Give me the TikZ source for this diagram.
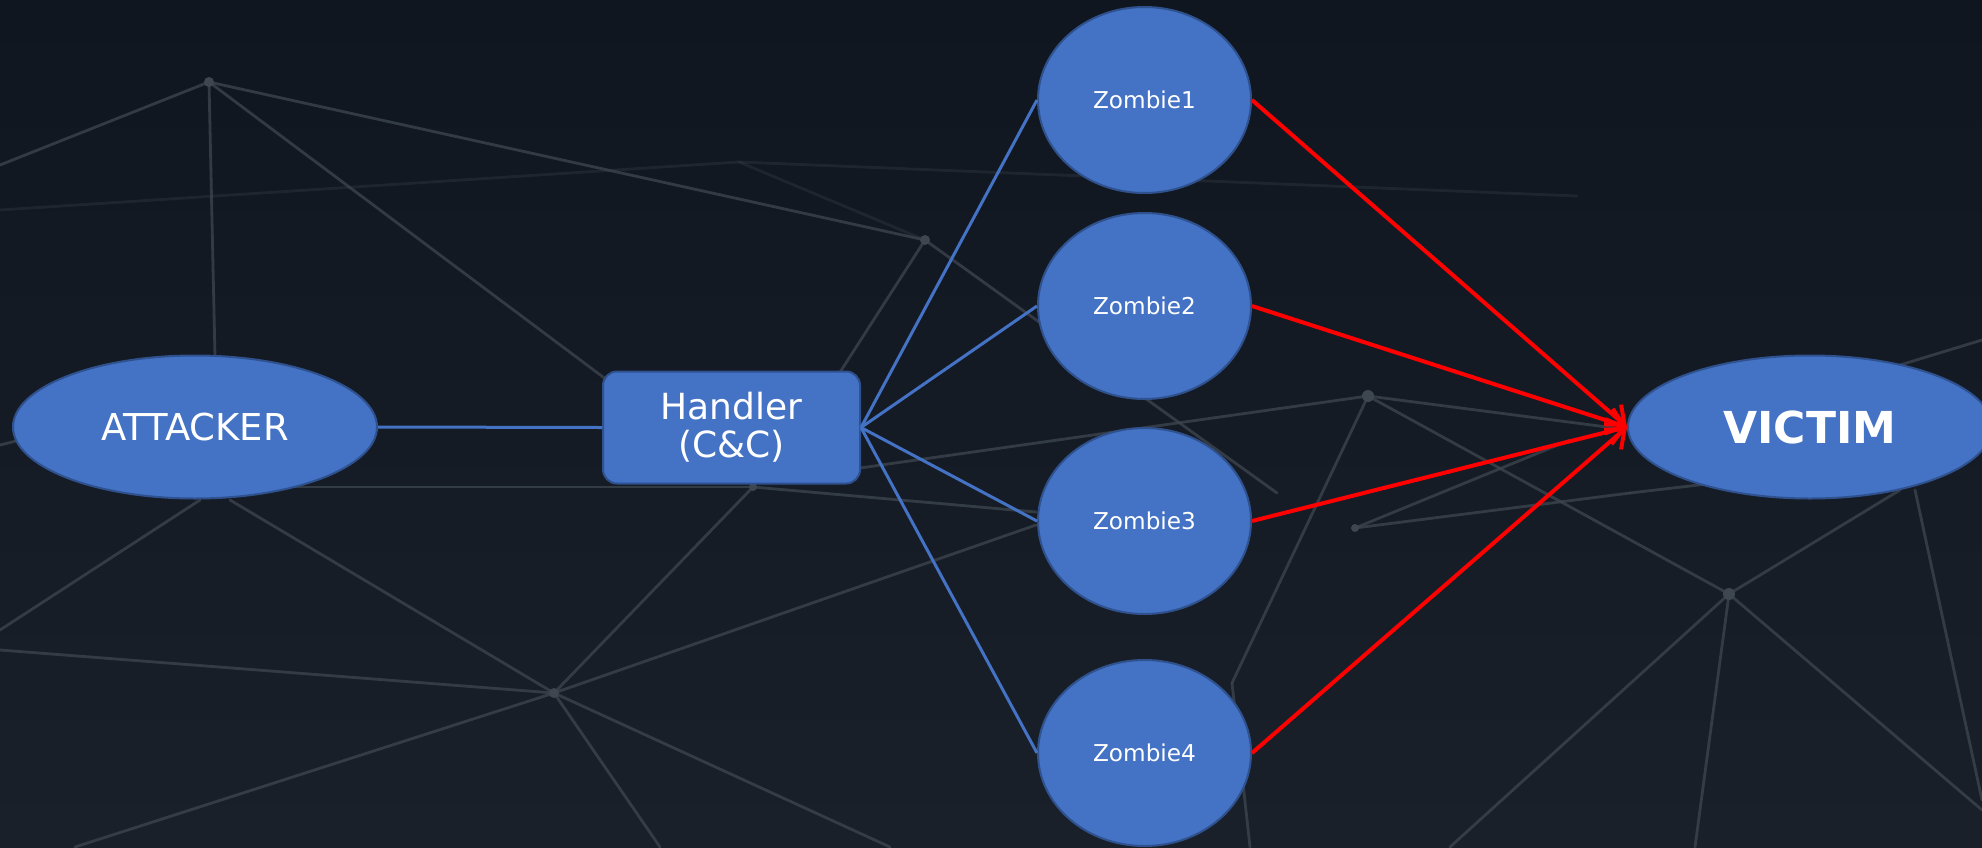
\documentclass[tikz,border=0pt]{standalone}
\usepackage{fontspec}
\setmainfont{DejaVu Sans}
\usetikzlibrary{shapes.geometric,arrows.meta}
\definecolor{bgtop}{RGB}{16,22,32}
\definecolor{bgbot}{RGB}{26,32,42}
\definecolor{netline}{RGB}{62,70,80}
\definecolor{nodefill}{RGB}{68,114,196}
\definecolor{nodeedge}{RGB}{47,82,143}
\definecolor{redline}{RGB}{255,0,0}
\tikzset{
  oval/.style={ellipse, draw=nodeedge, line width=1pt, fill=nodefill, text=white, inner sep=0pt},
  bigoval/.style={oval, minimum width=182pt, minimum height=71.5pt},
  zombie/.style={oval, minimum width=106.5pt, minimum height=93pt, font=\fontsize{11.6}{14}\selectfont},
  handlerbox/.style={rectangle, rounded corners=7pt, draw=nodeedge, line width=1pt, fill=nodefill, text=white,
    minimum width=128.5pt, minimum height=56pt, align=center, font=\fontsize{18}{19}\selectfont, inner sep=0pt},
  ctrl/.style={draw=nodefill, line width=1.5pt},
  attack/.style={draw=redline, line width=2pt, -{Straight Barb[length=8pt,width=13pt,line width=2pt]}},
  net/.style={draw=netline, line width=1.4pt, line cap=round}
}
\begin{document}
\begin{tikzpicture}[x=0.5pt,y=-0.5pt]
\useasboundingbox (0,0) rectangle (1982,847);
\shade[top color=bgtop, bottom color=bgbot] (0,0) rectangle (1982,847);
% background network
\begin{scope}[net, opacity=0.75]
\draw (0,165) -- (209,82);
\draw (209,82) -- (215,357);
\draw (209,82) -- (607,380);
\draw (209,82) -- (925,240);
\draw (925,240) -- (835,380);
\draw (925,240) -- (1277,493);
\draw (200,500) -- (0,630);
\draw (230,500) -- (554,693);
\draw (0,650) -- (554,693);
\draw (554,693) -- (753,487);
\draw (554,693) -- (1036,525);
\draw (554,693) -- (75,847);
\draw (554,693) -- (660,847);
\draw (554,693) -- (890,847);
\draw (290,487) -- (753,487);
\draw (753,487) -- (1036,512);
\draw (860,468) -- (1368,396);
\draw (1368,396) -- (1630,430);
\draw (1368,396) -- (1232,683);
\draw (1368,396) -- (1729,594);
\draw (1355,528) -- (1630,493);
\draw (1355,528) -- (1570,440);
\draw (1630,493) -- (1810,472);
\draw (1729,594) -- (1900,490);
\draw (1729,594) -- (1695,847);
\draw (1729,594) -- (1450,847);
\draw (1729,594) -- (1982,810);
\draw (1915,490) -- (1982,800);
\draw (1900,365) -- (1982,340);
\draw (1232,683) -- (1250,847);
\draw (0,445) -- (20,440);
\end{scope}
\begin{scope}[net, opacity=0.3]
\draw (0,210) -- (739,162) -- (1577,196);
\draw (739,162) -- (925,240);
\end{scope}
\fill[netline] (209,82) circle (5) (925,240) circle (5) (1368,396) circle (6) (554,693) circle (5) (1729,594) circle (6) (1355,528) circle (4) (753,487) circle (4);
% nodes
\node[bigoval, font=\fontsize{18.5}{20}\selectfont] (attacker) at (195,427) {ATTACKER};
\node[handlerbox] (handler) at (731.5,427.5) {Handler\\(C\&C)};
\node[zombie] (z1) at (1144.5,100) {Zombie1};
\node[zombie] (z2) at (1144.5,306) {Zombie2};
\node[zombie] (z3) at (1144.5,521) {Zombie3};
\node[zombie] (z4) at (1144.5,753) {Zombie4};
\node[bigoval, font=\bfseries\fontsize{22}{24}\selectfont] (victim) at (1810,427) {VICTIM};
% connectors
\draw[ctrl] (attacker.east) -- (handler.west);
\foreach \z in {z1,z2,z3,z4} {
  \draw[ctrl] (handler.east) -- (\z.west);
  \draw[attack] (\z.east) -- (victim.west);
}
\end{tikzpicture}
\end{document}
